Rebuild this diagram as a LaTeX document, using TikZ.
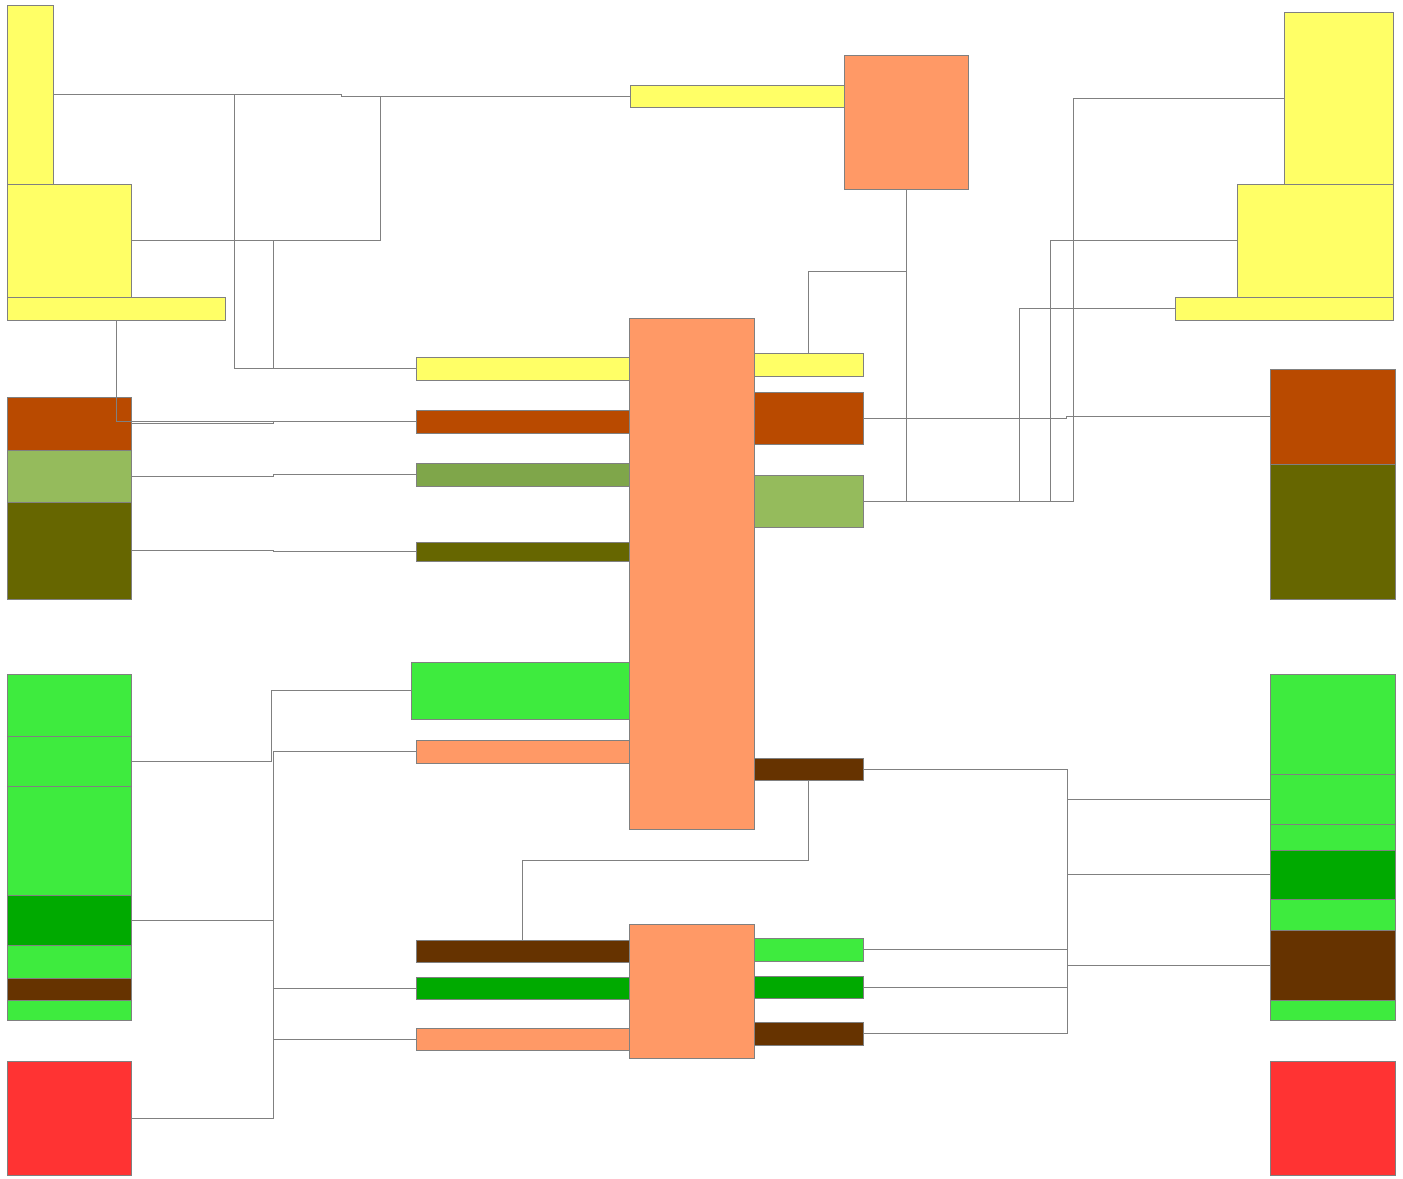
\documentclass[tikz,border=0pt]{standalone}
\usetikzlibrary{positioning}
\definecolor{ylw}{HTML}{FFFF66}
\definecolor{peach}{HTML}{FF9966}
\definecolor{rust}{HTML}{B94A00}
\definecolor{sage}{HTML}{95BB5C}
\definecolor{sagedk}{HTML}{7FA64A}
\definecolor{olive}{HTML}{666600}
\definecolor{lime}{HTML}{3EEB3E}
\definecolor{leaf}{HTML}{00AA00}
\definecolor{bark}{HTML}{663300}
\definecolor{alarm}{HTML}{FF3333}
\definecolor{edge}{HTML}{808080}

\begin{document}
\begin{tikzpicture}[
  x=0.02cm, y=-0.02cm,
  blk/.style={draw=edge, line width=0.5pt, inner sep=0pt, outer sep=0pt,
              anchor=north west},
  wh/.style 2 args={minimum width=#1*0.02cm, minimum height=#2*0.02cm},
  link/.style={draw=edge, line width=0.5pt},
]
\useasboundingbox (0,0) rectangle (1403,1178);

% ---------- left column ----------
\node[blk, fill=ylw, wh={46}{179}] (ly1) at (7,5) {};
\node[blk, fill=ylw, wh={124}{113}] (ly2) at (7,184) {};
\node[blk, fill=ylw, wh={218}{23}] (ly3) at (7,297) {};
\node[blk, fill=rust, wh={124}{53}] (lrust) at (7,397) {};
\node[blk, fill=sage, wh={124}{52}] (lsage) at (7,450) {};
\node[blk, fill=olive, wh={124}{97}] (lolive) at (7,502) {};
\node[blk, fill=lime, wh={124}{62}] (lg1) at (7,674) {};
\node[blk, fill=lime, wh={124}{50}] (lg2) at (7,736) {};
\node[blk, fill=lime, wh={124}{109}] (lg3) at (7,786) {};
\node[blk, fill=leaf, wh={124}{50}] (ldg) at (7,895) {};
\node[blk, fill=lime, wh={124}{33}] (lg4) at (7,945) {};
\node[blk, fill=bark, wh={124}{22}] (lbrn) at (7,978) {};
\node[blk, fill=lime, wh={124}{20}] (lg5) at (7,1000) {};
\node[blk, fill=alarm, wh={124}{114}] (lred) at (7,1061) {};

% ---------- top block ----------
\node[blk, fill=ylw, wh={214}{22}] (tyel) at (630,85) {};
\node[blk, fill=peach, wh={124}{134}] (torg) at (844,55) {};

% ---------- center block ----------
\node[blk, fill=peach, wh={125}{511}] (corg) at (629,318) {};
\node[blk, fill=ylw, wh={213}{23}] (cyelL) at (416,357) {};
\node[blk, fill=rust, wh={213}{23}] (crustL) at (416,410) {};
\node[blk, fill=sagedk, wh={213}{23}] (csageL) at (416,463) {};
\node[blk, fill=olive, wh={213}{19}] (coliveL) at (416,542) {};
\node[blk, fill=lime, wh={218}{57}] (cgrnL) at (411,662) {};
\node[blk, fill=peach, wh={213}{23}] (corgL) at (416,740) {};
\node[blk, fill=ylw, wh={109}{23}] (cyelR) at (754,353) {};
\node[blk, fill=rust, wh={109}{52}] (crustR) at (754,392) {};
\node[blk, fill=sage, wh={109}{52}] (csageR) at (754,475) {};
\node[blk, fill=bark, wh={109}{22}] (cbrnR) at (754,758) {};

% ---------- bottom block ----------
\node[blk, fill=peach, wh={125}{134}] (borg) at (629,924) {};
\node[blk, fill=bark, wh={213}{22}] (bbrnL) at (416,940) {};
\node[blk, fill=leaf, wh={213}{22}] (bdgL) at (416,977) {};
\node[blk, fill=peach, wh={213}{22}] (borgL) at (416,1028) {};
\node[blk, fill=lime, wh={109}{23}] (bgrnR) at (754,938) {};
\node[blk, fill=leaf, wh={109}{22}] (bdgR) at (754,976) {};
\node[blk, fill=bark, wh={109}{23}] (bbrnR) at (754,1022) {};

% ---------- right column ----------
\node[blk, fill=ylw, wh={109}{172}] (ry1) at (1284,12) {};
\node[blk, fill=ylw, wh={156}{113}] (ry2) at (1237,184) {};
\node[blk, fill=ylw, wh={218}{23}] (ry3) at (1175,297) {};
\node[blk, fill=rust, wh={125}{95}] (rrust) at (1270,369) {};
\node[blk, fill=olive, wh={125}{135}] (rolive) at (1270,464) {};
\node[blk, fill=lime, wh={125}{100}] (rg1) at (1270,674) {};
\node[blk, fill=lime, wh={125}{50}] (rg2) at (1270,774) {};
\node[blk, fill=lime, wh={125}{26}] (rg3) at (1270,824) {};
\node[blk, fill=leaf, wh={125}{49}] (rdg) at (1270,850) {};
\node[blk, fill=lime, wh={125}{31}] (rg4) at (1270,899) {};
\node[blk, fill=bark, wh={125}{70}] (rbrn) at (1270,930) {};
\node[blk, fill=lime, wh={125}{20}] (rg5) at (1270,1000) {};
\node[blk, fill=alarm, wh={125}{114}] (rred) at (1270,1061) {};

% ---------- bends ----------
\coordinate (s1) at (341,0);
\coordinate (s2) at (380,0);
\coordinate (s3) at (234,0);
\coordinate (s4) at (273,0);
\coordinate (s5) at (271,0);
\coordinate (s6) at (0,271);
\coordinate (s7) at (1019,0);
\coordinate (s8) at (1050,0);
\coordinate (s9) at (1073,0);
\coordinate (s10) at (1066,0);
\coordinate (s11) at (0,860);
\coordinate (s12) at (1067,0);

% ---------- left links ----------
\draw[link] (ly1.east) -| (s1 |- tyel.west) -- (tyel.west);
\draw[link] (ly2.east) -| (s2 |- tyel.west) -- (tyel.west);
\draw[link] (ly1.east) -| (s3 |- cyelL.west) -- (cyelL.west);
\draw[link] (ly2.east) -| (s4 |- cyelL.west) -- (cyelL.west);
\draw[link] (ly3.south) |- (crustL.west);
\draw[link] (lrust.east) -| (s4 |- crustL.west) -- (crustL.west);
\draw[link] (lsage.east) -| (s4 |- csageL.west) -- (csageL.west);
\draw[link] (lolive.east) -| (s4 |- coliveL.west) -- (coliveL.west);
\draw[link] (lg2.east) -| (s5 |- cgrnL.west) -- (cgrnL.west);
\foreach \src in {ldg, lred}
  \foreach \dst in {corgL, bdgL, borgL}
    \draw[link] (\src.east) -| (s4 |- \dst.west) -- (\dst.west);

% ---------- right links ----------
\draw[link] (torg.south) -- (torg.south |- s6) -| (cyelR.north);
\draw[link] (torg.south) |- (csageR.east);
\draw[link] (csageR.east) -| (s7 |- ry3.west) -- (ry3.west);
\draw[link] (csageR.east) -| (s8 |- ry2.west) -- (ry2.west);
\draw[link] (csageR.east) -| (s9 |- ry1.west) -- (ry1.west);
\draw[link] (crustR.east) -| (s10 |- rrust.west) -- (rrust.west);

% ---------- bottom links ----------
\draw[link] (cbrnR.south) -- (cbrnR.south |- s11) -| (bbrnL.north);
\draw[link] (cbrnR.east) -| (s12 |- rg2.west) -- (rg2.west);
\draw[link] (bgrnR.east) -| (s12 |- rg2.west) -- (rg2.west);
\draw[link] (bdgR.east) -| (s12 |- rdg.west) -- (rdg.west);
\draw[link] (bbrnR.east) -| (s12 |- rbrn.west) -- (rbrn.west);

\end{tikzpicture}
\end{document}
